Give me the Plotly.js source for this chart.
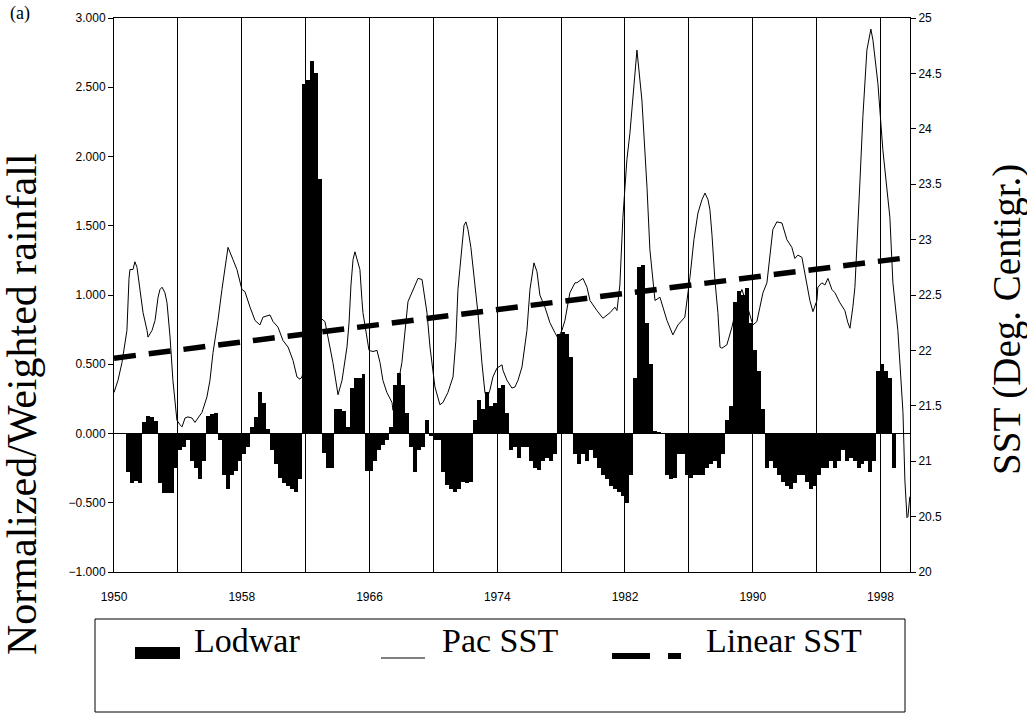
<!DOCTYPE html>
<html>
<head>
<meta charset="utf-8">
<script src="https://cdn.plot.ly/plotly-3.0.1.min.js"></script>
<style>
  html, body { margin: 0; padding: 0; background: #fff; }
  #chart { width: 1027px; height: 713px; }
</style>
</head>
<body>
<div id="chart"></div>
<script>
// ---- Data ----
// Lodwar normalized/weighted rainfall, quarterly values starting 1950
const rainStartYear = 1950;
const rainStep = 0.25;
const lodwarRain = [
  0, 0, 0, -0.28, -0.36, -0.34, -0.36, 0.08, 0.13, 0.12,
  0.09, -0.36, -0.43, -0.43, -0.43, -0.25, -0.12, -0.10, -0.05, -0.20,
  -0.25, -0.33, -0.20, 0.13, 0.14, 0.15, -0.05, -0.30, -0.40, -0.30,
  -0.27, -0.20, -0.15, -0.10, 0.05, 0.12, 0.30, 0.22, 0.03, -0.12,
  -0.22, -0.32, -0.36, -0.38, -0.40, -0.42, -0.33, 2.52, 2.55, 2.69,
  2.60, 1.84, -0.14, -0.25, -0.25, 0.18, 0.18, 0.16, 0.05, 0.33,
  0.40, 0.40, 0.43, -0.27, -0.27, -0.20, -0.12, -0.08, -0.05, 0.05,
  0.35, 0.44, 0.35, 0.15, -0.10, -0.28, -0.12, -0.10, 0.10, -0.02,
  -0.05, -0.05, -0.28, -0.37, -0.40, -0.42, -0.40, -0.35, -0.36, -0.35,
  0.10, 0.24, 0.18, 0.30, 0.20, 0.22, 0.33, 0.35, 0.15, -0.12,
  -0.10, -0.18, -0.10, -0.10, -0.20, -0.25, -0.26, -0.20, -0.18, -0.20,
  -0.15, 0.72, 0.73, 0.72, 0.55, -0.15, -0.22, -0.15, -0.20, -0.12,
  -0.18, -0.25, -0.30, -0.33, -0.38, -0.40, -0.42, -0.45, -0.50, -0.30,
  0.40, 1.20, 1.22, 0.80, 0.50, 0.02, 0.01, 0.00, -0.30, -0.33,
  -0.32, -0.15, -0.15, -0.30, -0.32, -0.30, -0.30, -0.30, -0.25, -0.22,
  -0.20, -0.25, -0.15, 0.10, 0.20, 0.95, 1.03, 1.00, 1.05, 0.80,
  0.60, 0.45, 0.18, -0.25, -0.20, -0.25, -0.30, -0.35, -0.38, -0.40,
  -0.36, -0.30, -0.30, -0.35, -0.40, -0.38, -0.30, -0.25, -0.25, -0.20,
  -0.25, -0.20, -0.12, -0.20, -0.18, -0.20, -0.25, -0.22, -0.20, -0.28,
  -0.20, 0.45, 0.50, 0.45, 0.40, -0.25
];

// Pacific SST (deg C)
const sstYear = [
  1950.00, 1950.25, 1950.50, 1950.81, 1950.94, 1951.00, 1951.19, 1951.31, 1951.44, 1951.63,
  1951.82, 1952.07, 1952.13, 1952.38, 1952.57, 1952.76, 1952.88, 1953.01, 1953.19, 1953.32,
  1953.51, 1953.69, 1953.94, 1954.13, 1954.26, 1954.45, 1954.63, 1954.88, 1955.07, 1955.26,
  1955.51, 1955.82, 1956.01, 1956.20, 1956.51, 1956.76, 1957.08, 1957.14, 1957.45, 1957.70,
  1958.01, 1958.20, 1958.52, 1958.83, 1959.14, 1959.33, 1959.77, 1959.96, 1960.27, 1960.58,
  1960.90, 1961.21, 1961.46, 1961.65, 1961.77, 1962.27, 1962.65, 1962.96, 1963.21, 1963.40,
  1963.71, 1964.03, 1964.28, 1964.59, 1964.72, 1964.84, 1964.97, 1965.09, 1965.40, 1965.53,
  1965.59, 1965.97, 1966.22, 1966.47, 1966.66, 1966.84, 1967.09, 1967.41, 1967.47, 1967.72,
  1968.03, 1968.41, 1968.66, 1969.04, 1969.29, 1969.60, 1969.79, 1970.10, 1970.41, 1970.60,
  1970.91, 1971.23, 1971.41, 1971.54, 1971.67, 1971.79, 1971.92, 1972.04, 1972.17, 1972.35,
  1972.54, 1972.73, 1972.79, 1973.04, 1973.23, 1973.36, 1973.54, 1973.73, 1973.98, 1974.30,
  1974.36, 1974.61, 1974.92, 1975.11, 1975.30, 1975.55, 1975.86, 1976.05, 1976.30, 1976.49,
  1976.67, 1976.99, 1977.30, 1977.61, 1977.80, 1978.05, 1978.24, 1978.55, 1978.87, 1978.99,
  1979.37, 1979.62, 1979.81, 1980.24, 1980.62, 1981.06, 1981.37, 1981.50, 1981.68, 1981.87,
  1982.12, 1982.31, 1982.75, 1983.06, 1983.38, 1983.56, 1983.88, 1984.19, 1984.63, 1985.00,
  1985.32, 1985.75, 1986.07, 1986.32, 1986.57, 1986.82, 1987.01, 1987.20, 1987.32, 1987.45,
  1987.63, 1987.82, 1987.95, 1988.07, 1988.38, 1988.70, 1988.89, 1989.07, 1989.32, 1989.51,
  1990.01, 1990.26, 1990.45, 1990.64, 1990.89, 1991.08, 1991.26, 1991.51, 1991.83, 1992.14,
  1992.45, 1992.64, 1992.83, 1993.08, 1993.14, 1993.39, 1993.58, 1993.77, 1994.02, 1994.08,
  1994.33, 1994.52, 1994.71, 1994.96, 1995.15, 1995.46, 1995.77, 1995.96, 1996.09, 1996.27,
  1996.40, 1996.71, 1996.90, 1997.15, 1997.40, 1997.53, 1997.84, 1998.15, 1998.59, 1998.78,
  1999.09, 1999.41, 1999.53, 1999.66, 1999.72, 1999.84
];
const sstTemp = [
  21.62, 21.73, 21.89, 22.18, 22.65, 22.73, 22.73, 22.80, 22.75, 22.55,
  22.34, 22.18, 22.12, 22.18, 22.27, 22.48, 22.55, 22.57, 22.52, 22.43,
  22.12, 21.73, 21.37, 21.33, 21.31, 21.39, 21.40, 21.39, 21.35, 21.39,
  21.44, 21.58, 21.73, 21.98, 22.27, 22.55, 22.91, 22.93, 22.82, 22.73,
  22.55, 22.53, 22.39, 22.27, 22.23, 22.30, 22.32, 22.26, 22.21, 22.09,
  22.03, 21.91, 21.76, 21.74, 21.76, 22.05, 22.29, 22.29, 22.26, 22.12,
  21.89, 21.60, 21.73, 22.03, 22.25, 22.59, 22.82, 22.89, 22.73, 22.45,
  22.34, 22.00, 21.99, 22.00, 21.89, 21.73, 21.62, 21.53, 21.46, 21.64,
  21.89, 22.44, 22.53, 22.65, 22.64, 22.34, 22.03, 21.67, 21.51, 21.53,
  21.62, 21.76, 22.09, 22.55, 22.75, 22.93, 23.13, 23.16, 23.09, 22.93,
  22.68, 22.45, 22.34, 21.89, 21.62, 21.57, 21.64, 21.76, 21.84, 21.87,
  21.82, 21.73, 21.66, 21.67, 21.73, 21.85, 22.18, 22.55, 22.79, 22.71,
  22.50, 22.39, 22.25, 22.16, 22.11, 22.18, 22.27, 22.52, 22.61, 22.61,
  22.65, 22.57, 22.45, 22.36, 22.29, 22.34, 22.39, 22.36, 22.59, 23.20,
  23.72, 23.96, 24.71, 24.26, 23.47, 22.91, 22.45, 22.48, 22.27, 22.14,
  22.23, 22.30, 22.66, 23.00, 23.24, 23.36, 23.42, 23.36, 23.27, 23.04,
  22.64, 22.34, 22.03, 22.02, 22.05, 22.21, 22.34, 22.45, 22.55, 22.47,
  22.23, 22.26, 22.39, 22.52, 22.61, 22.86, 23.09, 23.16, 23.15, 23.00,
  22.93, 22.83, 22.86, 22.84, 22.79, 22.57, 22.45, 22.35, 22.45, 22.57,
  22.61, 22.59, 22.65, 22.55, 22.52, 22.43, 22.36, 22.25, 22.20, 22.39,
  22.57, 23.51, 24.11, 24.71, 24.90, 24.80, 24.41, 23.81, 23.20, 22.61,
  22.18, 21.44, 20.83, 20.49, 20.50, 20.68
];

// Linear SST trend (end points)
const linYear = [1950.0, 1999.85];
const linTemp = [21.93, 22.84];

// Axis ticks
const xTickVals = [1950, 1954, 1958, 1962, 1966, 1970, 1974, 1978, 1982, 1986, 1990, 1994, 1998];
const xTickText = ['1950', '', '1958', '', '1966', '', '1974', '', '1982', '', '1990', '', '1998'];
const leftTickVals = [-1, -0.5, 0, 0.5, 1, 1.5, 2, 2.5, 3];
const rightTickVals = [20, 20.5, 21, 21.5, 22, 22.5, 23, 23.5, 24, 24.5, 25];

// Legend / titles text
const seriesNames = ['Lodwar', 'Pac SST', 'Linear SST'];
const leftTitle = 'Normalized/Weighted rainfall';
const rightTitle = 'SST (Deg. Centigr.)';
const panelLabel = '(a)';

// ---- Build traces ----
const rainX = lodwarRain.map((_, i) => rainStartYear + i * rainStep + rainStep / 2);

const traces = [
  {
    type: 'bar', name: seriesNames[0], x: rainX, y: lodwarRain,
    width: rainStep, marker: { color: '#000', line: { width: 0 } },
    xaxis: 'x', yaxis: 'y', hoverinfo: 'skip'
  },
  {
    type: 'scatter', mode: 'lines', name: seriesNames[1], x: sstYear, y: sstTemp,
    line: { color: '#000', width: 1 }, xaxis: 'x', yaxis: 'y2', hoverinfo: 'skip'
  },
  {
    type: 'scatter', mode: 'lines', name: seriesNames[2], x: linYear, y: linTemp,
    line: { color: '#000', width: 5.5, dash: '22px,13px' }, xaxis: 'x', yaxis: 'y2', hoverinfo: 'skip'
  }
];

const tickFont = { family: 'Liberation Sans, Arial, sans-serif', size: 12, color: '#000' };
const serif = 'Liberation Serif, Times New Roman, serif';

// plot area in pixels: left 114, right 910, top 18, bottom 572
const W = 796, H = 554, L = 114, B = 572;
const px = v => (v - L) / W;
const py = v => (B - v) / H;

const layout = {
  width: 1027, height: 713,
  margin: { l: 114, r: 117, t: 18, b: 141, pad: 0 },
  paper_bgcolor: '#fff', plot_bgcolor: '#fff',
  showlegend: false,
  bargap: 0,
  xaxis: {
    range: [1950, 1999.85], tickmode: 'array', tickvals: xTickVals, ticktext: xTickText,
    showgrid: true, gridcolor: '#000', gridwidth: 1,
    showline: true, linecolor: '#000', linewidth: 1, mirror: true,
    ticks: '', zeroline: false, tickfont: tickFont, ticklabelstandoff: 14
  },
  yaxis: {
    range: [-1, 3], tickmode: 'array', tickvals: leftTickVals, tickformat: '.3f',
    showgrid: false, zeroline: true, zerolinecolor: '#000', zerolinewidth: 1,
    showline: true, linecolor: '#000', linewidth: 1,
    ticks: 'outside', ticklen: 5, tickcolor: '#000', tickfont: tickFont
  },
  yaxis2: {
    range: [20, 25], overlaying: 'y', side: 'right', tickmode: 'array', tickvals: rightTickVals,
    showgrid: false, zeroline: false,
    showline: true, linecolor: '#000', linewidth: 1,
    ticks: 'outside', ticklen: 5, tickcolor: '#000', tickfont: tickFont
  },
  shapes: [
    // legend frame
    { type: 'rect', xref: 'paper', yref: 'paper', x0: px(95), x1: px(905), y0: py(619), y1: py(712),
      line: { color: '#000', width: 1 }, fillcolor: 'rgba(0,0,0,0)' },
    // Lodwar symbol
    { type: 'rect', xref: 'paper', yref: 'paper', x0: px(135), x1: px(180), y0: py(647), y1: py(659),
      line: { width: 0 }, fillcolor: '#000' },
    // Pac SST symbol
    { type: 'line', xref: 'paper', yref: 'paper', x0: px(381), x1: px(425), y0: py(658), y1: py(658),
      line: { color: '#000', width: 1 } },
    // Linear SST symbol (dash + short dash)
    { type: 'line', xref: 'paper', yref: 'paper', x0: px(612), x1: px(650), y0: py(656), y1: py(656),
      line: { color: '#000', width: 6 } },
    { type: 'line', xref: 'paper', yref: 'paper', x0: px(668), x1: px(681), y0: py(656), y1: py(656),
      line: { color: '#000', width: 6 } }
  ],
  annotations: [
    { text: seriesNames[0], xref: 'paper', yref: 'paper', x: px(192), y: py(640), xanchor: 'left', yanchor: 'middle',
      showarrow: false, font: { family: serif, size: 34, color: '#000' } },
    { text: seriesNames[1], xref: 'paper', yref: 'paper', x: px(440), y: py(640), xanchor: 'left', yanchor: 'middle',
      showarrow: false, font: { family: serif, size: 34, color: '#000' } },
    { text: seriesNames[2], xref: 'paper', yref: 'paper', x: px(704), y: py(640), xanchor: 'left', yanchor: 'middle',
      showarrow: false, font: { family: serif, size: 34, color: '#000' } },
    { text: leftTitle, xref: 'paper', yref: 'paper', x: px(22), y: py(404), xanchor: 'center', yanchor: 'middle',
      textangle: -90, showarrow: false, font: { family: serif, size: 42, color: '#000' } },
    { text: rightTitle, xref: 'paper', yref: 'paper', x: px(1007), y: py(320), xanchor: 'center', yanchor: 'middle',
      textangle: -90, showarrow: false, font: { family: serif, size: 39, color: '#000' } },
    { text: panelLabel, xref: 'paper', yref: 'paper', x: px(20), y: py(1), xanchor: 'center', yanchor: 'top',
      showarrow: false, font: { family: serif, size: 18, color: '#000' } }
  ]
};

Plotly.newPlot('chart', traces, layout, { staticPlot: true, displayModeBar: false });
</script>
</body>
</html>
